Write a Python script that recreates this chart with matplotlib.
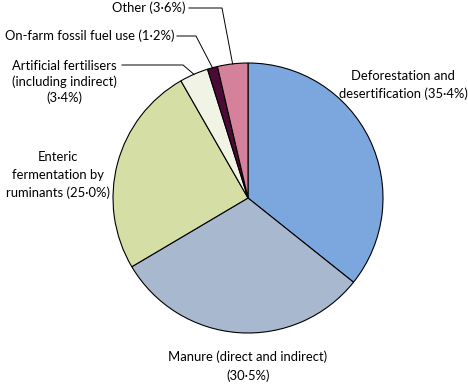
import numpy as np
import matplotlib.pyplot as plt

# Sources of livestock greenhouse gas emissions (%)
labels = ["Deforestation and\ndesertification (35·4%)",
          "Manure (direct and indirect)\n(30·5%)",
          "Enteric\nfermentation by\nruminants (25·0%)",
          "Artificial fertilisers\n(including indirect)\n(3·4%)",
          "On-farm fossil fuel use (1·2%)",
          "Other (3·6%)"]
shares = [35.4, 30.5, 25.0, 3.4, 1.2, 3.6]
colors = ["#7ba7de", "#a8b9cf", "#d5dea5", "#f1f3e5", "#4b0b36", "#d6819b"]

W, H = 468, 385
fig = plt.figure(figsize=(W / 100, H / 100), dpi=100)
ax = fig.add_axes([0, 0, 1, 1])
ax.set_xlim(0, W)
ax.set_ylim(0, H)
ax.set_aspect("equal")
ax.axis("off")

plt.rcParams['font.family'] = ['Lato', 'DejaVu Sans']

cx, cy, r = 248, H - 198, 135
wedges, _ = ax.pie(shares, colors=colors, startangle=90, counterclock=False,
                   center=(cx, cy), radius=r,
                   wedgeprops=dict(edgecolor="black", linewidth=0.8))
ax.set_xlim(0, W)
ax.set_ylim(0, H)

fs = 9.4
# labels placed directly (pixel positions from top-left)
direct = {0: (403, 85), 1: (248, 366), 2: (58, 175)}
for i, (x, y) in direct.items():
    ax.text(x, H - y, labels[i], ha="center", va="center", fontsize=fs,
            linespacing=1.6)

# labels with leader lines: text anchor, elbow point
leaders = {3: ((64, 82), (122, 65), (183, 65)),
           4: ((90, 36), (177, 36), (196, 36)),
           5: ((149, 8), (189, 8), (222, 8))}
for i, (tpos, start, elbow) in leaders.items():
    ax.text(tpos[0], H - tpos[1], labels[i], ha="center", va="center",
            fontsize=fs, linespacing=1.35)
    w = wedges[i]
    mid = np.deg2rad((w.theta1 + w.theta2) / 2)
    ex, ey = cx + r * np.cos(mid), cy + r * np.sin(mid)
    ax.plot([start[0], elbow[0], ex], [H - start[1], H - elbow[1], ey],
            color="black", lw=0.7)

fig.savefig("out.png", dpi=100)
